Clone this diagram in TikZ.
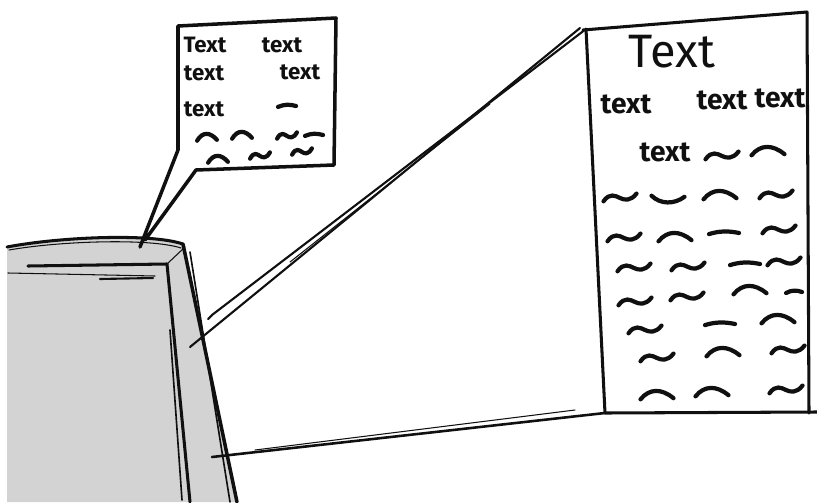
\documentclass[tikz,border=0pt]{standalone}
\usepackage{fontspec}
\setmainfont{Fira Sans}
\usetikzlibrary{positioning}
\definecolor{ink}{HTML}{101010}
\definecolor{pillar}{HTML}{D3D3D3}

\begin{document}
\begin{tikzpicture}[x=0.03cm,y=-0.03cm,line cap=round,line join=round,
  edge/.style={ink,line width=2.6pt},
  hair/.style={ink,line width=0.9pt},
  scribble/.style={ink,line width=3.6pt},
  bigtxt/.style={ink,inner sep=0pt,font=\fontsize{40}{40}\selectfont},
  paneltxt/.style={ink,inner sep=0pt,font=\bfseries\fontsize{24}{24}\selectfont},
  calltxt/.style={ink,inner sep=0pt,font=\bfseries\fontsize{19}{19}\selectfont},
  squig/.pic={\draw[scribble] (-11,3) .. controls (-7,-5) and (-3,-2) .. (0,0)
     .. controls (3,2) and (7,3) .. (11,-4);},
  hump/.pic={\draw[scribble] (-11,3) .. controls (-5,-7) and (3,-7) .. (11,2);},
  cup/.pic={\draw[scribble] (-11,-3) .. controls (-5,5) and (4,5) .. (11,-2);},
  dashmark/.pic={\draw[scribble] (-10,1) .. controls (-3,-2) and (3,-2) .. (10,0);}]
\useasboundingbox (0,0) rectangle (817,502);

% pillar
\fill[pillar] (7,247) .. controls (60,237) and (150,233) .. (183,244)
  -- (237,502) -- (7,502) -- cycle;
\draw[edge] (7,247) .. controls (60,237) and (150,233) .. (183,244);
\draw[hair] (9,250) .. controls (60,241) and (150,238) .. (181,248);
\draw[edge] (28,266) -- (167,264);
\draw[hair] (8,273) -- (155,276);
\draw[edge,line width=1.8pt] (100,279) -- (153,278);
\draw[hair] (167,264) -- (185,247);
\draw[edge] (167,264) -- (190,502);
\draw[edge,line width=1.4pt] (170,330) -- (182,500);
\draw[edge,line width=3pt] (183,244) -- (237,502);
\draw[edge,line width=1.4pt] (190,252) -- (230,502);

% perspective lines
\coordinate (pTL) at (586,29);
\coordinate (pTR) at (807,12);
\coordinate (pBR) at (809,413);
\coordinate (pBL) at (605,413);
\draw[edge,line width=1.8pt] (pTL) -- (212,315) -- (208,319);
\draw[edge,line width=1.8pt] (580,28) -- (190,347);
\draw[hair] (490,104) -- (290,262);
\draw[edge,line width=2.2pt] (212,457) -- (pBL);
\draw[hair] (255,450) -- (575,410);

% screen panel
\draw[edge] (583,30) -- (pTR) -- (pBR);
\draw[edge] (pTL) -- (pBL) -- (817,412);

% speech box
\coordinate (cTL) at (178,26);
\coordinate (cTR) at (336,18);
\coordinate (cBR) at (334,165);
\draw[edge,line width=3pt] (140,247) -- (178,150) -- (cTL) -- (cTR) -- (cBR)
  -- (196,170) -- (145,240);

% texts in speech box
\node[calltxt] (c1a) at (205,45) {Text};
\node[calltxt] (c1b) at (282,45) {text};
\node[calltxt] (c2a) at (204,73) {text};
\node[calltxt] (c2b) at (300,72) {text};
\node[calltxt] (c3a) at (204,109) {text};
\foreach \x/\y/\k in {287/106/dashmark,207/138/hump,242/136/hump,287/136/squig,
  314/135/dashmark,218/160/hump,260/156/squig,302/152/squig}
  {\pic[scale=0.9] at (\x,\y) {\k};}

% texts in panel
\node[bigtxt] (title) at (672,52) {Text};
\node[paneltxt] (t1) at (626,104) {text};
\node[paneltxt] (t2) at (722,100) {text};
\node[paneltxt] (t3) at (780,98) {text};
\node[paneltxt] (t4) at (665,152) {text};
\foreach \x/\y/\k in {722/156/squig,768/152/hump,
  620/198/squig,668/199/cup,720/196/hump,776/195/squig,
  624/238/squig,675/238/hump,724/233/dashmark,779/230/squig,
  634/268/squig,688/267/squig,745/264/dashmark,784/262/squig,
  635/302/squig,687/297/squig,750/291/hump,
  645/330/squig,720/324/dashmark,778/320/hump,
  657/358/squig,723/353/hump,788/350/squig,
  657/396/hump,712/393/hump,786/390/squig}
  {\pic[xscale=1.5,yscale=1.1] at (\x,\y) {\k};}
\pic[xscale=0.8] at (794,292) {dashmark};
\end{tikzpicture}
\end{document}
